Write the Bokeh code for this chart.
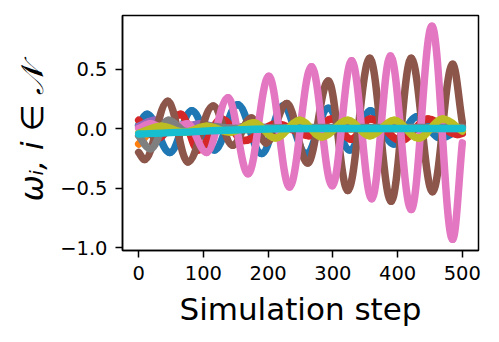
from bokeh.plotting import figure
from bokeh.models import Range1d, FixedTicker, ColumnDataSource
from bokeh.embed import file_html
from bokeh.resources import INLINE

# ---- data (extrema of each oscillation) ----
x_ticks = [0, 100, 200, 300, 400, 500]
y_ticks = [-1.0, -0.5, 0.0, 0.5]
y_tick_labels = ["\u22121.0", "\u22120.5", "0.0", "0.5"]

blue_x = [0, 13, 48, 82, 117, 153, 190, 223, 259, 293, 326, 358, 394, 430, 466, 500]
blue_y = [0.03, 0.12, -0.20, 0.15, -0.18, 0.20, -0.21, 0.19, -0.21, 0.17, -0.18, 0.15, -0.13, 0.10, -0.08, 0.02]

orange_x = [0, 30, 80, 500]
orange_y = [-0.13, 0.02, -0.01, 0.0]

green_x = [0, 25, 60, 500]
green_y = [0.02, -0.01, 0.01, 0.0]

red_x = [0, 30, 65, 92, 128, 163, 213, 263, 298, 328, 358, 405, 447, 492, 500]
red_y = [0.07, -0.08, 0.12, -0.18, 0.08, -0.10, 0.04, -0.06, 0.08, -0.09, 0.08, -0.10, 0.08, -0.05, -0.04]

purple_x = [0, 25, 60, 95, 130, 170, 220, 500]
purple_y = [0.02, 0.07, 0.0, 0.04, 0.0, 0.02, 0.0, 0.0]

brown_x = [0, 9, 45, 76, 115, 145, 174, 197, 229, 261, 293, 323, 357, 390, 421, 454, 485, 500]
brown_y = [-0.20, -0.26, 0.23, -0.28, 0.19, -0.14, 0.09, -0.12, 0.21, -0.29, 0.40, -0.52, 0.59, -0.61, 0.59, -0.53, 0.54, 0.05]

pink_x = [0, 18, 45, 75, 105, 138, 169, 201, 233, 267, 299, 329, 360, 389, 421, 453, 485, 500]
pink_y = [0.0, 0.04, -0.02, 0.04, -0.20, 0.26, -0.38, 0.44, -0.49, 0.52, -0.48, 0.57, -0.59, 0.61, -0.68, 0.86, -0.93, -0.12]

gray_x = [0, 18, 46, 75, 110, 150, 250, 500]
gray_y = [-0.06, -0.17, 0.07, -0.03, 0.02, 0.0, 0.01, 0.01]

olive_x = [0, 35, 70, 105, 142, 178, 211, 249, 283, 323, 357, 395, 432, 470, 500]
olive_y = [-0.04, 0.02, -0.03, 0.02, -0.03, 0.05, -0.08, 0.07, -0.07, 0.07, -0.06, 0.07, -0.08, 0.08, -0.02]

cyan_x = [0, 250, 500]
cyan_y = [-0.045, 0.0, 0.0]

series = [
    (blue_x, blue_y, "#1f77b4"),
    (orange_x, orange_y, "#ff7f0e"),
    (green_x, green_y, "#2ca02c"),
    (red_x, red_y, "#d62728"),
    (purple_x, purple_y, "#9467bd"),
    (brown_x, brown_y, "#8c564b"),
    (pink_x, pink_y, "#e377c2"),
    (gray_x, gray_y, "#7f7f7f"),
    (olive_x, olive_y, "#bcbd22"),
    (cyan_x, cyan_y, "#17becf"),
]

K = 0.3642  # handle length of a cubic approximating a half-cosine


def segments(xs, ys):
    d = dict(x0=[], y0=[], x1=[], y1=[], cx0=[], cy0=[], cx1=[], cy1=[])
    n = len(xs)
    for i in range(n - 1):
        a, b = xs[i], xs[i + 1]
        ya, yb = ys[i], ys[i + 1]
        dx = b - a
        d["x0"].append(a); d["y0"].append(ya)
        d["x1"].append(b); d["y1"].append(yb)
        d["cx0"].append(a + K * dx)
        d["cx1"].append(b - K * dx)
        # ends of the series are not extrema: aim the handle along the chord
        d["cy0"].append(ya + K * (yb - ya) if i == 0 else ya)
        d["cy1"].append(yb - K * (yb - ya) if i == n - 2 else yb)
    return ColumnDataSource(d)


p = figure(width=499, height=342, output_backend="svg", toolbar_location=None,
           x_range=Range1d(-25, 525), y_range=Range1d(-1.024, 0.95),
           min_border_left=122, min_border_right=21, min_border_top=15,
           min_border_bottom=92)

for xs, ys, c in series:
    p.bezier(x0="x0", y0="y0", x1="x1", y1="y1", cx0="cx0", cy0="cy0",
             cx1="cx1", cy1="cy1", source=segments(xs, ys),
             line_color=c, line_width=7.5, line_cap="round")

p.xgrid.visible = False
p.ygrid.visible = False
p.background_fill_color = "white"
p.border_fill_color = "white"
p.outline_line_color = "black"
p.outline_line_width = 1.5

p.xaxis.ticker = FixedTicker(ticks=x_ticks)
p.yaxis.ticker = FixedTicker(ticks=y_ticks)
p.yaxis.major_label_overrides = {t: l for t, l in zip(y_ticks, y_tick_labels)}

for ax in (p.xaxis[0], p.yaxis[0]):
    ax.axis_line_color = "black"
    ax.axis_line_width = 1.5
    ax.major_tick_line_color = "black"
    ax.major_tick_line_width = 1.5
    ax.major_tick_out = 7
    ax.major_tick_in = 0
    ax.minor_tick_line_color = None
    ax.major_label_text_font = "DejaVu Sans"
    ax.major_label_text_font_size = "19.5px"
    ax.major_label_text_color = "black"
    ax.major_label_standoff = 8
    ax.axis_label_text_font = "DejaVu Sans"
    ax.axis_label_text_font_size = "31px"
    ax.axis_label_text_color = "black"

p.xaxis.axis_label = "Simulation step"
p.xaxis.axis_label_text_font_style = "normal"
p.xaxis.axis_label_standoff = 8
p.yaxis.axis_label = "\u03c9\u1d62, i \u2208 \U0001D4A9"
p.yaxis.axis_label_text_font_style = "italic"
p.yaxis.axis_label_standoff = 7

open("out.html", "w").write(file_html(p, INLINE))
